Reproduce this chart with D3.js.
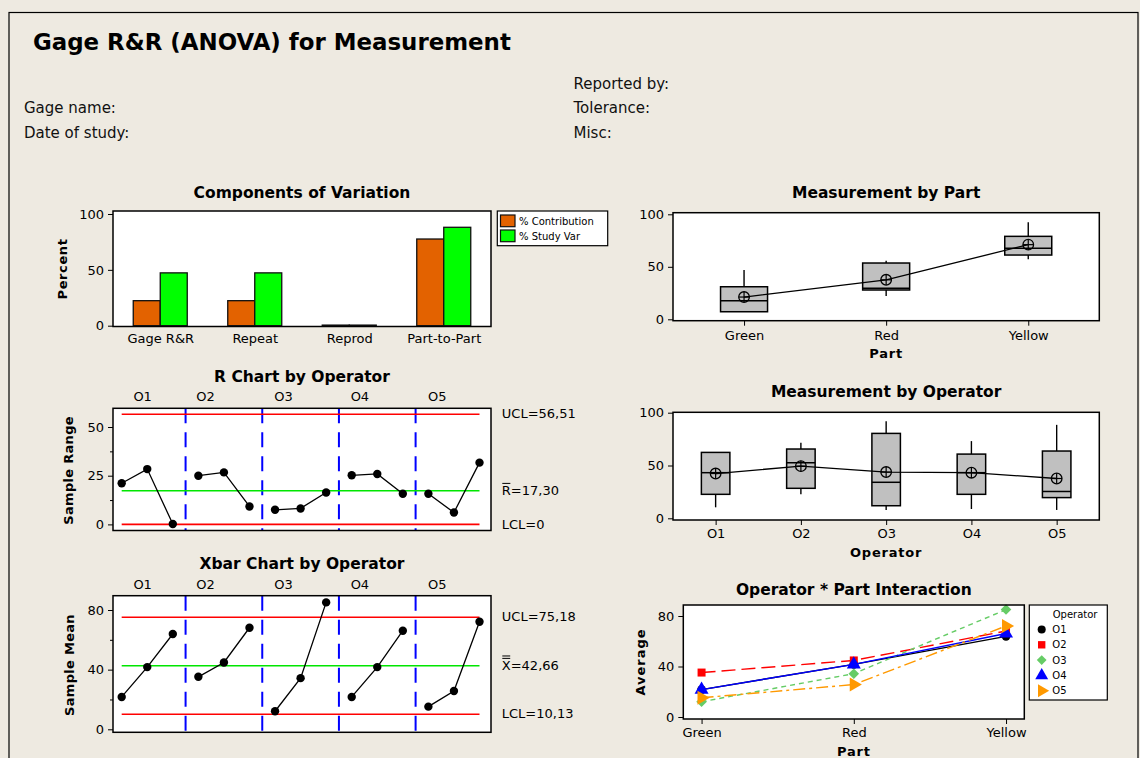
<!DOCTYPE html>
<html><head><meta charset="utf-8">
<script src="https://cdn.jsdelivr.net/npm/d3@7"></script>
<style>
html,body{margin:0;padding:0;background:#EEEAE1;}
svg{display:block;font-family:"DejaVu Sans",sans-serif;}
</style></head><body>
<svg id="c" width="1140" height="758"></svg>
<script>
// ---------------- DATA ----------------
const components = ["Gage R&R", "Repeat", "Reprod", "Part-to-Part"];
const pctContribution = [22.4, 22.4, 0, 77.6];
const pctStudyVar = [47.3, 47.3, 0, 88.1];

const operators = ["O1", "O2", "O3", "O4", "O5"];
const parts = ["Green", "Red", "Yellow"];

// subgroups ordered operator by operator, parts Green/Red/Yellow
const sampleRange = [21.1, 28.4, 0.2, 25.0, 26.7, 9.2, 7.5, 8.2, 16.4, 25.2, 25.9, 15.7, 15.7, 6.1, 31.7];
const rLimits = {ucl: 56.51, center: 17.30, lcl: 0};
const sampleMean = [21.7, 41.7, 63.9, 35.2, 44.8, 68.1, 12.1, 34.3, 85.1, 21.7, 41.7, 66.1, 15.2, 25.7, 72.1];
const xLimits = {ucl: 75.18, center: 42.66, lcl: 10.13};
const opLabelPos = [1.82, 4.28, 7.33, 10.32, 13.35];

// box statistics: low whisker, Q1, median, Q3, high whisker, mean
const partBox = [
  {lo: 7.2, q1: 7.2, med: 17.7, q3: 31.0, hi: 47.0, mean: 21.2},
  {lo: 22.2, q1: 27.9, med: 29.5, q3: 53.6, hi: 55.8, mean: 37.6},
  {lo: 57.1, q1: 61.2, med: 67.6, q3: 79.0, hi: 92.4, mean: 71.1}
];
const operatorBox = [
  {lo: 10.4, q1: 22.7, med: 43.2, q3: 62.4, hi: 62.4, mean: 42.4},
  {lo: 22.7, q1: 28.4, med: 52.6, q3: 65.6, hi: 71.5, mean: 49.4},
  {lo: 7.9, q1: 11.9, med: 34.1, q3: 80.4, hi: 92.0, mean: 43.8},
  {lo: 8.8, q1: 22.7, med: 43.2, q3: 60.8, hi: 73.1, mean: 43.2},
  {lo: 7.9, q1: 19.6, med: 25.4, q3: 63.7, hi: 88.5, mean: 37.7}
];
// Operator * Part averages
const interactionAvg = [
  [21.7, 41.7, 63.9],
  [35.2, 44.8, 68.1],
  [12.1, 34.3, 85.1],
  [21.7, 41.7, 66.1],
  [15.2, 25.7, 72.1]
];

// ---------------- DRAWING ----------------
const BG = "#EEEAE1";
const svg = d3.select("#c");
svg.append("rect").attr("width", 1140).attr("height", 758).attr("fill", BG);
svg.append("rect").attr("x", 9).attr("y", 12.5).attr("width", 1129).attr("height", 800)
  .attr("fill", "none").attr("stroke", "#000").attr("stroke-width", 1.2);

svg.append("text").attr("x", 33).attr("y", 50).attr("font-size", 22.9).attr("font-weight", "bold")
  .text("Gage R&R (ANOVA) for Measurement");
const hdr = [["Gage name:", 24, 112.5], ["Date of study:", 24, 137.5],
             ["Reported by:", 573.5, 89], ["Tolerance:", 573.5, 113.3], ["Misc:", 573.5, 137.7]];
hdr.forEach(h => svg.append("text").attr("x", h[1]).attr("y", h[2]).attr("font-size", 15).attr("fill", "#111").text(h[0]));

const fmt = v => d3.format(".2f")(v).replace(".", ",");

function panel(x0, y0, x1, y1) {
  svg.append("rect").attr("x", x0).attr("y", y0).attr("width", x1 - x0).attr("height", y1 - y0).attr("fill", "#fff");
  const g = svg.append("g");
  return {g, close: () => svg.append("rect").attr("x", x0).attr("y", y0).attr("width", x1 - x0).attr("height", y1 - y0)
    .attr("fill", "none").attr("stroke", "#000").attr("stroke-width", 1.5)};
}
function title(t, cx, y) {
  svg.append("text").attr("x", cx).attr("y", y).attr("text-anchor", "middle").attr("font-size", 15.5)
    .attr("font-weight", "bold").text(t);
}
function styleAxis(sel) {
  sel.select(".domain").remove();
  sel.selectAll("text").attr("font-size", 13).attr("font-family", "DejaVu Sans").attr("fill", "#000");
  sel.selectAll("line").attr("stroke", "#000");
}
function yAxis(scale, x, ticks, minor) {
  const a = svg.append("g").attr("transform", `translate(${x},0)`)
    .call(d3.axisLeft(scale).tickValues(ticks).tickSize(5).tickPadding(4));
  styleAxis(a);
  if (minor) {
    const m = svg.append("g").attr("transform", `translate(${x},0)`)
      .call(d3.axisLeft(scale).tickValues(minor).tickSize(3).tickFormat(""));
    styleAxis(m);
  }
}
function xAxis(scale, y, tickSize, pad) {
  const a = svg.append("g").attr("transform", `translate(0,${y})`)
    .call(d3.axisBottom(scale).tickSize(tickSize).tickPadding(pad));
  styleAxis(a);
}
function yLabel(t, x, y, ls) {
  svg.append("text").attr("transform", `translate(${x},${y}) rotate(-90)`).attr("text-anchor", "middle")
    .attr("font-size", 13).attr("font-weight", "bold").attr("letter-spacing", ls || 0).text(t);
}
function xLabel(t, x, y) {
  svg.append("text").attr("x", x).attr("y", y).attr("text-anchor", "middle")
    .attr("font-size", 13).attr("font-weight", "bold").attr("letter-spacing", 0.8).text(t);
}

// ===== Components of Variation =====
{
  const L = 113, R = 491, T = 211, B = 326.5;
  const x = d3.scalePoint().domain(components).range([L, R]).padding(0.5);
  const y = d3.scaleLinear().domain([0, 100]).range([325.7, 214]);
  title("Components of Variation", (L + R) / 2, 197.7);
  const p = panel(L, T, R, B);
  const bw = 27;
  const series = [{vals: pctContribution, col: "#E36200", off: -bw}, {vals: pctStudyVar, col: "#00FF00", off: 0}];
  series.forEach(s => {
    p.g.selectAll(null).data(components).enter().append("rect")
      .attr("x", c => x(c) + s.off).attr("width", bw)
      .attr("y", (c, i) => Math.min(y(s.vals[i]), y(0) - 0.6))
      .attr("height", (c, i) => Math.max(y(0) - y(s.vals[i]), 0.6))
      .attr("fill", s.col).attr("stroke", "#111").attr("stroke-width", 1.3);
  });
  p.close();
  yAxis(y, L, [0, 50, 100]);
  xAxis(x, B, 0, 7.3);
  yLabel("Percent", 67, 269, 0.6);
  // legend
  svg.append("rect").attr("x", 497.3).attr("y", 211).attr("width", 110.4).attr("height", 34.7)
    .attr("fill", "#fff").attr("stroke", "#000").attr("stroke-width", 1.2);
  [["% Contribution", "#E36200", 215], ["% Study Var", "#00FF00", 230]].forEach(d => {
    svg.append("rect").attr("x", 500.5).attr("y", d[2]).attr("width", 14.5).attr("height", 11.7)
      .attr("fill", d[1]).attr("stroke", "#111").attr("stroke-width", 1.2);
    svg.append("text").attr("x", 519).attr("y", d[2] + 10).attr("font-size", 10).text(d[0]);
  });
}

// ===== Control charts =====
function controlChart(cfg) {
  const L = 113, R = 491;
  const x = d3.scaleLinear().domain([0.66, 15.45]).range([L, R]);
  const y = d3.scaleLinear().domain(cfg.dom).range(cfg.rng);
  title(cfg.title, (L + R) / 2, cfg.T - 26.5);
  operators.forEach((o, i) => svg.append("text").attr("x", x(opLabelPos[i])).attr("y", cfg.T - 7)
    .attr("text-anchor", "middle").attr("font-size", 13).text(o));
  const p = panel(L, cfg.T, R, cfg.B);
  // dividers
  [3.5, 6.5, 9.5, 12.5].forEach(d => p.g.append("line").attr("x1", x(d)).attr("x2", x(d))
    .attr("y1", cfg.T).attr("y2", cfg.B).attr("stroke", "#0000FF").attr("stroke-width", 2)
    .attr("stroke-dasharray", "15,9"));
  // limit lines
  [[cfg.lim.ucl, "#FF0000"], [cfg.lim.lcl, "#FF0000"], [cfg.lim.center, "#00E600"]].forEach(l =>
    p.g.append("line").attr("x1", x(1)).attr("x2", x(15)).attr("y1", y(l[0])).attr("y2", y(l[0]))
      .attr("stroke", l[1]).attr("stroke-width", 1.6));
  const line = d3.line().x(d => x(d.i)).y(d => y(d.v));
  operators.forEach((o, k) => {
    const pts = [0, 1, 2].map(j => ({i: k * 3 + j + 1, v: cfg.vals[k * 3 + j]}));
    p.g.append("path").attr("d", line(pts)).attr("fill", "none").attr("stroke", "#000").attr("stroke-width", 1.3);
    p.g.selectAll(null).data(pts).enter().append("circle").attr("cx", d => x(d.i)).attr("cy", d => y(d.v))
      .attr("r", 4.2).attr("fill", "#000");
  });
  p.close();
  yAxis(y, L, cfg.ticks, cfg.minor);
  yLabel(cfg.ylabel, cfg.ylx, (cfg.T + cfg.B) / 2 + 1, 0.3);
  // limit labels
  const lx = 501.8;
  const lab = (v, pre, post, bars) => {
    svg.append("text").attr("x", lx).attr("y", y(v)).attr("dy", "0.32em").attr("font-size", 13).text(pre + post);
    if (bars) {
      const tmp = svg.append("text").attr("font-size", 13).text(pre);
      const w = tmp.node().getComputedTextLength(); tmp.remove();
      for (let b = 0; b < bars; b++) {
        const yy = y(v) + 4.2 - 9.5 - 2 - b * 2.4;
        svg.append("line").attr("x1", lx + 0.5).attr("x2", lx + w - 0.5).attr("y1", yy).attr("y2", yy)
          .attr("stroke", "#000").attr("stroke-width", 1);
      }
    }
  };
  lab(cfg.lim.ucl, "UCL", "=" + fmt(cfg.lim.ucl));
  lab(cfg.lim.center, cfg.cname, "=" + fmt(cfg.lim.center), cfg.bars);
  lab(cfg.lim.lcl, "LCL", "=" + (cfg.lim.lcl === 0 ? "0" : fmt(cfg.lim.lcl)));
}
controlChart({title: "R Chart by Operator", T: 408.3, B: 530.5, dom: [0, 50], rng: [524.4, 427],
  vals: sampleRange, lim: rLimits, ticks: [0, 25, 50], minor: [12.5, 37.5],
  ylabel: "Sample Range", ylx: 73, cname: "R", bars: 1});
controlChart({title: "Xbar Chart by Operator", T: 595.7, B: 732.3, dom: [0, 80], rng: [729.3, 610],
  vals: sampleMean, lim: xLimits, ticks: [0, 40, 80], minor: [20, 60],
  ylabel: "Sample Mean", ylx: 74, cname: "X", bars: 2});

// ===== Box plots =====
function boxChart(cfg) {
  const x = d3.scalePoint().domain(cfg.cats).range([cfg.L, cfg.R]).padding(0.5);
  const y = d3.scaleLinear().domain([0, 100]).range(cfg.rng);
  title(cfg.title, (cfg.L + cfg.R) / 2, cfg.T - 15);
  const p = panel(cfg.L, cfg.T, cfg.R, cfg.B);
  const bw = cfg.bw;
  cfg.cats.forEach((c, i) => {
    const s = cfg.stats[i], cx = x(c);
    if (s.hi > s.q3) p.g.append("line").attr("x1", cx).attr("x2", cx).attr("y1", y(s.q3)).attr("y2", y(s.hi)).attr("stroke", "#000").attr("stroke-width", 1.4);
    if (s.lo < s.q1) p.g.append("line").attr("x1", cx).attr("x2", cx).attr("y1", y(s.q1)).attr("y2", y(s.lo)).attr("stroke", "#000").attr("stroke-width", 1.4);
    p.g.append("rect").attr("x", cx - bw / 2).attr("width", bw).attr("y", y(s.q3)).attr("height", y(s.q1) - y(s.q3))
      .attr("fill", "#C0C0C0").attr("stroke", "#000").attr("stroke-width", 1.5);
    p.g.append("line").attr("x1", cx - bw / 2).attr("x2", cx + bw / 2).attr("y1", y(s.med)).attr("y2", y(s.med))
      .attr("stroke", "#000").attr("stroke-width", 1.5);
  });
  const mline = d3.line().x((d, i) => x(cfg.cats[i])).y(d => y(d.mean));
  p.g.append("path").attr("d", mline(cfg.stats)).attr("fill", "none").attr("stroke", "#000").attr("stroke-width", 1.3);
  cfg.cats.forEach((c, i) => {
    const cx = x(c), cy = y(cfg.stats[i].mean), r = 5.3;
    p.g.append("circle").attr("cx", cx).attr("cy", cy).attr("r", r).attr("fill", "none").attr("stroke", "#000").attr("stroke-width", 1.3);
    p.g.append("line").attr("x1", cx - r).attr("x2", cx + r).attr("y1", cy).attr("y2", cy).attr("stroke", "#000").attr("stroke-width", 1.2);
    p.g.append("line").attr("x1", cx).attr("x2", cx).attr("y1", cy - r).attr("y2", cy + r).attr("stroke", "#000").attr("stroke-width", 1.2);
  });
  p.close();
  yAxis(y, cfg.L, [0, 50, 100]);
  xAxis(x, cfg.B, 5, cfg.pad);
  xLabel(cfg.xlabel, (cfg.L + cfg.R) / 2, cfg.xly);
}
boxChart({title: "Measurement by Part", cats: parts, stats: partBox, L: 673, R: 1099.3, T: 212.7, B: 320.7,
  rng: [319.3, 214.3], bw: 47, pad: 5.1, xlabel: "Part", xly: 358.3});
boxChart({title: "Measurement by Operator", cats: operators, stats: operatorBox, L: 673, R: 1099.3, T: 412.3, B: 520,
  rng: [518.3, 412.7], bw: 28.5, pad: 4.1, xlabel: "Operator", xly: 556.7});

// ===== Interaction =====
{
  const L = 683.3, R = 1024.3, T = 605, B = 719;
  const x = d3.scalePoint().domain(parts).range([L, R]).padding(0.12);
  const y = d3.scaleLinear().domain([0, 80]).range([717, 616]);
  title("Operator * Part Interaction", (L + R) / 2, 594.5);
  const p = panel(L, T, R, B);
  const styles = [
    {col: "#000000", dash: null, sym: d3.symbolCircle, size: 60, rot: 0},
    {col: "#FF0000", dash: "14,6", sym: d3.symbolSquare, size: 64, rot: 0},
    {col: "#66CC66", dash: "5,4", sym: d3.symbolSquare, size: 56, rot: 45},
    {col: "#0000FF", dash: null, sym: d3.symbolTriangle, size: 85, rot: 0},
    {col: "#FF9900", dash: "12,4,3,4", sym: d3.symbolTriangle, size: 85, rot: 90}
  ];
  const line = d3.line().x((d, i) => x(parts[i])).y(d => y(d));
  operators.forEach((o, k) => {
    const st = styles[k];
    p.g.append("path").attr("d", line(interactionAvg[k])).attr("fill", "none").attr("stroke", st.col)
      .attr("stroke-width", 1.4).attr("stroke-dasharray", st.dash);
    interactionAvg[k].forEach((v, i) => p.g.append("path").attr("d", d3.symbol(st.sym, st.size)())
      .attr("transform", `translate(${x(parts[i])},${y(v)}) rotate(${st.rot})`).attr("fill", st.col));
  });
  p.close();
  yAxis(y, L, [0, 40, 80]);
  xAxis(x, B, 5, 3.3);
  yLabel("Average", 645, 662, 1);
  xLabel("Part", (L + R) / 2, 756);
  // legend
  svg.append("rect").attr("x", 1029.3).attr("y", 605).attr("width", 78).attr("height", 95)
    .attr("fill", "#fff").attr("stroke", "#000").attr("stroke-width", 1.2);
  svg.append("text").attr("x", 1052.7).attr("y", 617.7).attr("font-size", 10).text("Operator");
  operators.forEach((o, k) => {
    const st = styles[k], cy = 629.5 + k * 15.3;
    svg.append("path").attr("d", d3.symbol(st.sym, st.size * 0.85)())
      .attr("transform", `translate(1041.7,${cy}) rotate(${st.rot})`).attr("fill", st.col);
    svg.append("text").attr("x", 1052.3).attr("y", cy).attr("dy", "0.35em").attr("font-size", 10).text(o);
  });
}
</script>
</body></html>
